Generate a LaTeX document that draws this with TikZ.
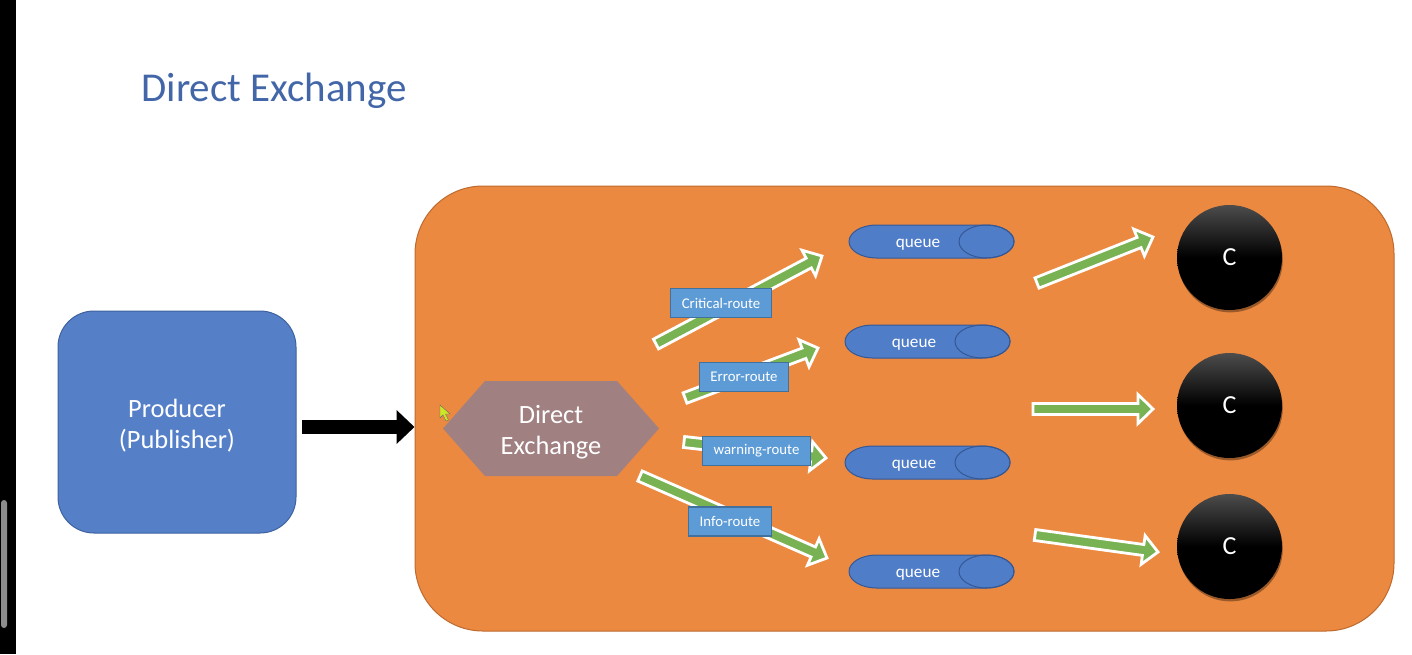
\documentclass[tikz,border=0pt]{standalone}
\usepackage{fontspec}
\setmainfont{Carlito}
\usetikzlibrary{calc,arrows.meta,shadows}
\definecolor{titleblue}{RGB}{66,102,168}
\definecolor{prodfill}{RGB}{85,128,200}
\definecolor{prodline}{RGB}{62,98,160}
\definecolor{brokerfill}{RGB}{236,137,64}
\definecolor{brokerline}{RGB}{190,106,46}
\definecolor{hexfill}{RGB}{160,128,129}
\definecolor{qfill}{RGB}{80,125,200}
\definecolor{qline}{RGB}{52,88,150}
\definecolor{lblfill}{RGB}{92,155,213}
\definecolor{lblline}{RGB}{65,113,156}
\definecolor{gfill}{RGB}{120,178,82}
\definecolor{scrollgrey}{RGB}{140,140,140}
\definecolor{cursorfill}{RGB}{205,230,40}
\newcommand\garrow[2]{%
  \coordinate (#1-h) at ($(#2)!7.5pt!(#1)$);
  \filldraw[greenarrow] ($(#1)!2.75pt!90:(#2)$) -- ($(#1-h)!2.75pt!-90:(#1)$) -- ($(#1-h)!7.25pt!-90:(#1)$) -- (#2) -- ($(#1-h)!7.25pt!90:(#1)$) -- ($(#1-h)!2.75pt!90:(#1)$) -- ($(#1)!2.75pt!-90:(#2)$) -- cycle;
}
\newcommand\queuedraw[3]{%
  \node[qbox] (#1) at (#2,#3) {};
  \filldraw[qshape] ([xshift=13.75pt]#1.north west) -- ([xshift=-13.75pt]#1.north east)
     arc[start angle=90,end angle=-90,x radius=13.75pt,y radius=8.25pt]
     -- ([xshift=13.75pt]#1.south west)
     arc[start angle=270,end angle=90,x radius=13.75pt,y radius=8.25pt] -- cycle;
  \draw[qedge] ([xshift=-13.75pt]#1.east) ellipse[x radius=13.75pt,y radius=8.25pt];
  \node[qtext] (#1-label) at ([xshift=-6.75pt,yshift=-1.5pt]#1.center) {queue};
}
\begin{document}
\begin{tikzpicture}[x=0.5pt,y=-0.5pt,
  titlestyle/.style={text=titleblue,font=\fontsize{20.5pt}{24pt}\selectfont,inner sep=0pt},
  producerbox/.style={rectangle,rounded corners=18pt,fill=prodfill,draw=prodline,line width=0.5pt,
     minimum width=119pt,minimum height=111pt},
  producertext/.style={align=center,text=white,inner sep=0pt,
     font=\fontsize{13.2pt}{15.5pt}\selectfont},
  brokerbox/.style={rectangle,rounded corners=34pt,fill=brokerfill,draw=brokerline,line width=0.5pt,
     minimum width=489.5pt,minimum height=222.5pt},
  blackarrow/.style={line width=7pt,-{Triangle[length=9pt,width=16.5pt]}},
  hexbox/.style={rectangle,draw=none,minimum width=108pt,minimum height=47.5pt,inner sep=0pt,outer sep=0pt},
  hexshape/.style={fill=hexfill},
  hextext/.style={align=center,text=white,font=\fontsize{13.2pt}{15.5pt}\selectfont,inner sep=0pt},
  greenarrow/.style={fill=gfill,draw=white,line width=1.4pt,line join=miter},
  lbl/.style={rectangle,fill=lblfill,draw=lblline,line width=0.6pt,text=white,
     font=\fontsize{7.4pt}{9pt}\selectfont,inner xsep=5.5pt,inner ysep=0pt,minimum height=14.5pt},
  qbox/.style={rectangle,draw=none,minimum width=82.5pt,minimum height=16.5pt,inner sep=0pt,outer sep=0pt},
  qshape/.style={fill=qfill,draw=qline,line width=0.5pt},
  qedge/.style={draw=qline,line width=0.5pt},
  qtext/.style={text=white,font=\fontsize{8.6pt}{10pt}\selectfont,inner sep=0pt},
  consumer/.style={circle,minimum size=52.5pt,inner sep=0pt,text=white,
     top color=black!70,bottom color=black,middle color=black,
     font=\fontsize{13pt}{15pt}\selectfont,
     drop shadow={shadow xshift=0.4pt,shadow yshift=-1.2pt,opacity=0.35,fill=black}}
]
\useasboundingbox (0,0) rectangle (1412,654);
\fill[white] (0,0) rectangle (1412,654);
\fill[black] (0,0) rectangle (16,654);
\fill[scrollgrey,rounded corners=1.5pt] (1,500) rectangle (7,628);

\node[titlestyle,anchor=base west] (title) at (141,101) {Direct Exchange};

\node[producerbox] (producer) at (177,422) {};
\node[producertext] (producerlabel) at ([yshift=-2pt]producer.center) {Producer\\(Publisher)};
\node[brokerbox] (broker) at (904.5,408.5) {};
\draw[blackarrow] ([xshift=2.5pt,yshift=-2.5pt]producer.east) -- ([yshift=-2.5pt]producer.east -| broker.west);

% cursor
\filldraw[fill=cursorfill,draw=black!60,line width=0.2pt]
  (440,405) -- (440,418) -- (443,415) -- (446,421) -- (448.5,420) -- (445.5,414) -- (450,414) -- cycle;

% exchange hexagon
\node[hexbox] (ex) at (551,428.5) {};
\fill[hexshape] (ex.west) -- ([xshift=21pt]ex.north west) -- ([xshift=-21pt]ex.north east) -- (ex.east)
   -- ([xshift=-21pt]ex.south east) -- ([xshift=21pt]ex.south west) -- cycle;
\node[hextext] (exlabel) at ([yshift=-1.75pt]ex.center) {Direct\\Exchange};

% green arrows
\coordinate (ga) at (656,344);  \coordinate (gat) at (822,256);
\coordinate (gb) at (685,398);  \coordinate (gbt) at (818,348);
\coordinate (gc) at (684,442);  \coordinate (gct) at (826,458);
\coordinate (gd) at (640,476);  \coordinate (gdt) at (827,558);
\coordinate (ge) at (1037,283); \coordinate (get) at (1153,237);
\coordinate (gf) at (1033,409); \coordinate (gft) at (1153,409);
\coordinate (gg) at (1035,535); \coordinate (ggt) at (1158,552);
\garrow{ga}{gat}
\garrow{gb}{gbt}
\garrow{gc}{gct}
\garrow{gd}{gdt}
\garrow{ge}{get}
\garrow{gf}{gft}
\garrow{gg}{ggt}

% route labels
\node[lbl] (lcrit) at (721,303) {Critical-route};
\node[lbl] (lerr) at (744,377) {Error-route};
\node[lbl] (lwarn) at (756.5,451) {warning-route};
\node[lbl] (linfo) at (730,521.5) {Info-route};

% queues
\queuedraw{q1}{931.5}{241.5}
\queuedraw{q2}{927.5}{341.5}
\queuedraw{q3}{927.5}{462.5}
\queuedraw{q4}{931.5}{571.5}

% consumers
\node[consumer] (c1) at (1229.5,257.5) {C};
\node[consumer] (c2) at (1229.5,405.5) {C};
\node[consumer] (c3) at (1229.5,546.5) {C};
\end{tikzpicture}
\end{document}
